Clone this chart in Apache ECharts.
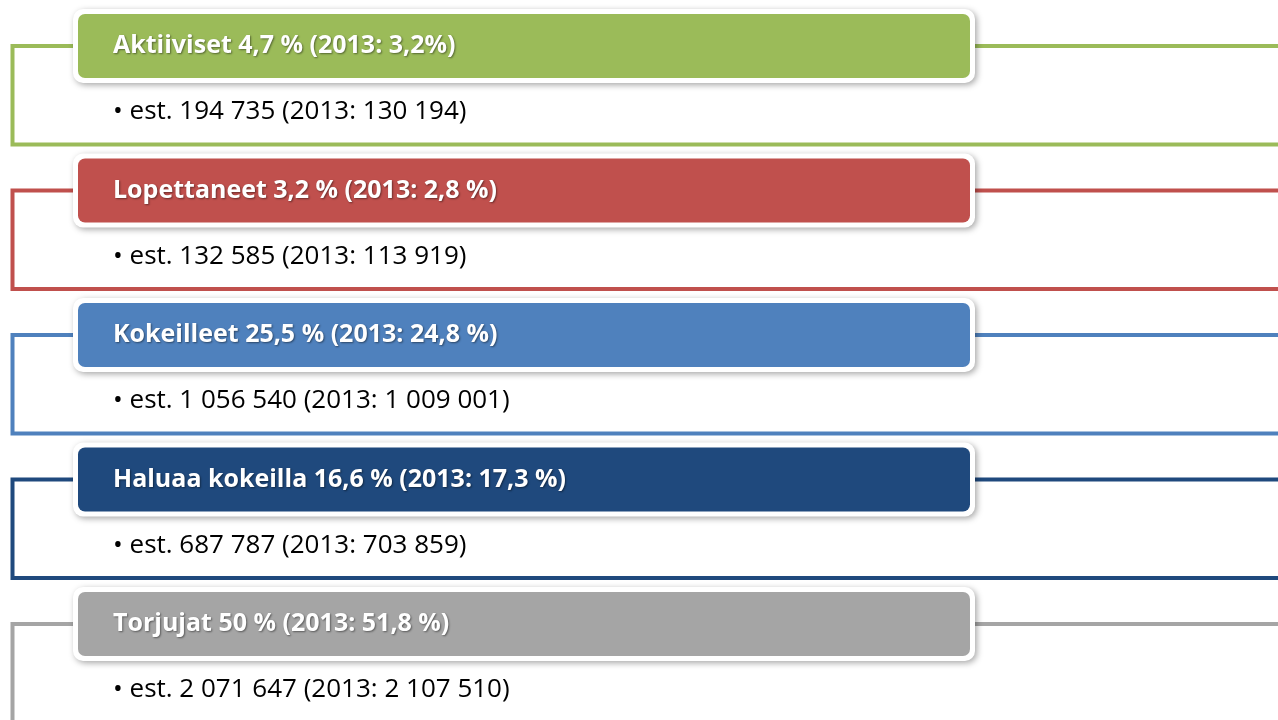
<!DOCTYPE html>
<html>
<head>
<meta charset="utf-8">
<title>Aktiiviset / Lopettaneet / Kokeilleet</title>
<script src="https://cdn.jsdelivr.net/npm/echarts@6/dist/echarts.min.js"></script>
<style>
  html, body { margin: 0; padding: 0; background: #fff; }
  #main { width: 1278px; height: 720px; }
</style>
</head>
<body>
<div id="main"></div>
<script>
// ryhmät ja niiden luvut
const groups = ['Aktiiviset', 'Lopettaneet', 'Kokeilleet', 'Haluaa kokeilla', 'Torjujat']
const share = ['4,7 %', '3,2 %', '25,5 %', '16,6 %', '50 %']
const share2013 = ['3,2%', '2,8 %', '24,8 %', '17,3 %', '51,8 %']
const estimate = ['194 735', '132 585', '1 056 540', '687 787', '2 071 647']
const estimate2013 = ['130 194', '113 919', '1 009 001', '703 859', '2 107 510']
const colors = ['#9bbb59', '#c0504d', '#4f81bd', '#1f497d', '#a5a5a5']

const ROW_H = 144.5 // yhden rivin korkeus pikseleinä

const chart = echarts.init(document.getElementById('main'))

const rows = groups.map((g, i) => [0, i])

function renderItem(params, api) {
  const i = params.dataIndex
  const top = api.coord([0, i])[1] // rivin yläreuna
  const color = colors[i]
  const hx = 78
  const hy = top + 14
  const hw = 892
  const hh = 64
  return {
    type: 'group',
    children: [
      // kehys
      {
        type: 'rect',
        shape: { x: 12.5, y: hy + hh / 2, width: 1400, height: 98.5 },
        style: { fill: 'none', stroke: color, lineWidth: 4 }
      },
      // otsikkolaatikon valkoinen reunus + varjo
      {
        type: 'rect',
        shape: { x: hx - 5, y: hy - 5, width: hw + 10, height: hh + 10, r: 10 },
        style: {
          fill: '#fff',
          shadowBlur: 6,
          shadowOffsetX: 2,
          shadowOffsetY: 2,
          shadowColor: 'rgba(0,0,0,0.35)'
        }
      },
      {
        type: 'rect',
        shape: { x: hx, y: hy, width: hw, height: hh, r: 7 },
        style: { fill: color }
      },
      {
        type: 'text',
        style: {
          x: 113,
          y: hy + hh / 2,
          text: groups[i] + ' ' + share[i] + ' (2013: ' + share2013[i] + ')',
          fill: '#fff',
          font: 'bold 25px "Open Sans", "Noto Sans", sans-serif',
          verticalAlign: 'middle',
          textShadowColor: 'rgba(0,0,0,0.45)',
          textShadowBlur: 2,
          textShadowOffsetX: 1,
          textShadowOffsetY: 1
        }
      },
      // arvio
      {
        type: 'text',
        style: {
          x: 113,
          y: hy + 98,
          text: '\u2022 est. ' + estimate[i] + ' (2013: ' + estimate2013[i] + ')',
          fill: '#000',
          font: '26px "Open Sans", "Noto Sans", sans-serif',
          verticalAlign: 'middle'
        }
      }
    ]
  }
}

chart.setOption({
  animation: false,
  grid: { left: 0, top: 0, right: 0, bottom: 0 },
  xAxis: { type: 'value', min: 0, max: 1278, show: false },
  yAxis: { type: 'value', min: 0, max: 720 / ROW_H, inverse: true, show: false },
  series: [{
    type: 'custom',
    clip: false,
    encode: { x: 0, y: 1 },
    data: rows,
    renderItem: renderItem
  }]
})
</script>
</body>
</html>
